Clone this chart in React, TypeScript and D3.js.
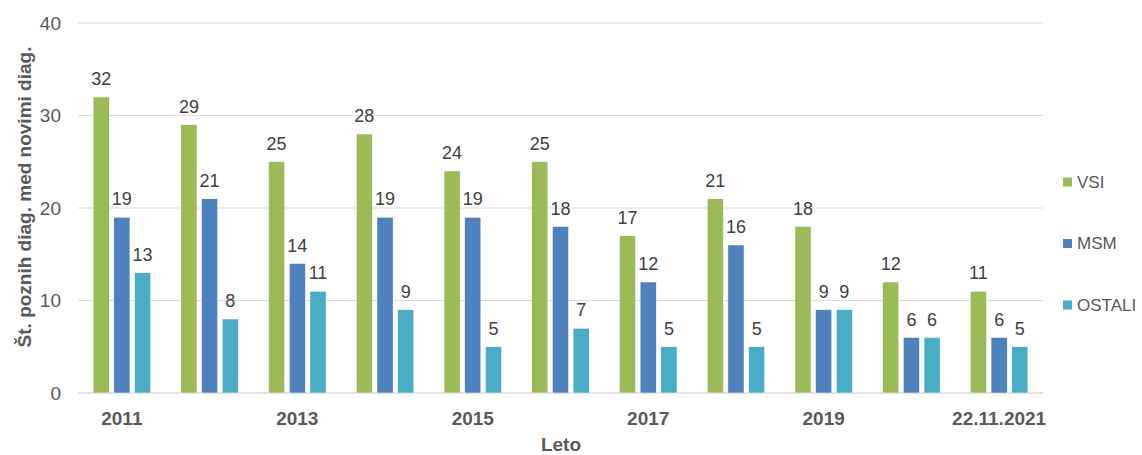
import React from "react";
import * as d3 from "d3";

const categories = ["2011", "2012", "2013", "2014", "2015", "2016", "2017", "2018", "2019", "2020", "22.11.2021"];
const seriesNames = ["VSI", "MSM", "OSTALI"];
const vsi = [32, 29, 25, 28, 24, 25, 17, 21, 18, 12, 11];
const msm = [19, 21, 14, 19, 19, 18, 12, 16, 9, 6, 6];
const ostali = [13, 8, 11, 9, 5, 7, 5, 5, 9, 6, 5];
const yTicks = [0, 10, 20, 30, 40];
const colors = ["#9BBB59", "#4F81BD", "#4BACC6"];

const W = 1142;
const H = 455;
const plot = { left: 78, right: 1043, top: 23, bottom: 393 };

export default function App() {
  const series = [vsi, msm, ostali];
  const x = d3.scaleBand<string>().domain(categories).range([plot.left, plot.right]).paddingInner(0).paddingOuter(0);
  const y = d3.scaleLinear().domain([0, 40]).range([plot.bottom, plot.top]);
  const inner = d3.scaleBand<string>().domain(seriesNames).range([0, 57.5]).paddingInner(0.22);
  const groupOffset = (x.bandwidth() - 57.5) / 2;
  const bw = inner.bandwidth();
  const font = "Arial, 'Liberation Sans', sans-serif";

  return (
    <svg width={W} height={H} style={{ position: "absolute", left: 0, top: 0, background: "#fff" }} fontFamily={font}>
      {yTicks.map((t) => (
        <g key={t}>
          <line x1={plot.left} x2={plot.right} y1={y(t)} y2={y(t)} stroke="#D9D9D9" strokeWidth={t === 0 ? 1.5 : 1} />
          <text x={61} y={y(t)} dy="0.35em" textAnchor="end" fontSize={19} fill="#595959">{t}</text>
        </g>
      ))}
      {categories.map((c, i) => (
        <g key={c}>
          {series.map((s, j) => {
            const bx = (x(c) as number) + groupOffset + (inner(seriesNames[j]) as number);
            return (
              <g key={j}>
                <rect x={bx} y={y(s[i])} width={bw} height={y(0) - y(s[i])} fill={colors[j]} stroke="#fff" strokeWidth={0.5} />
                <text x={bx + bw / 2} y={y(s[i]) - 12} textAnchor="middle" fontSize={18} fill="#404040">{s[i]}</text>
              </g>
            );
          })}
          {i % 2 === 0 && (
            <text x={(x(c) as number) + x.bandwidth() / 2} y={425} textAnchor="middle" fontSize={19} fontWeight="bold" fill="#595959">{c}</text>
          )}
        </g>
      ))}
      <text x={561} y={451} textAnchor="middle" fontSize={19} fontWeight="bold" fill="#595959">Leto</text>
      <text transform={`translate(31,197) rotate(-90)`} textAnchor="middle" fontSize={19} fontWeight="bold" fill="#595959">Št. poznih diag. med novimi diag.</text>
      {seriesNames.map((n, j) => (
        <g key={n} transform={`translate(1063,${182 + j * 61.5})`}>
          <rect x={0} y={-4.5} width={9} height={9} fill={colors[j]} />
          <text x={14} y={0} dy="0.35em" fontSize={17} fill="#595959">{n}</text>
        </g>
      ))}
    </svg>
  );
}
